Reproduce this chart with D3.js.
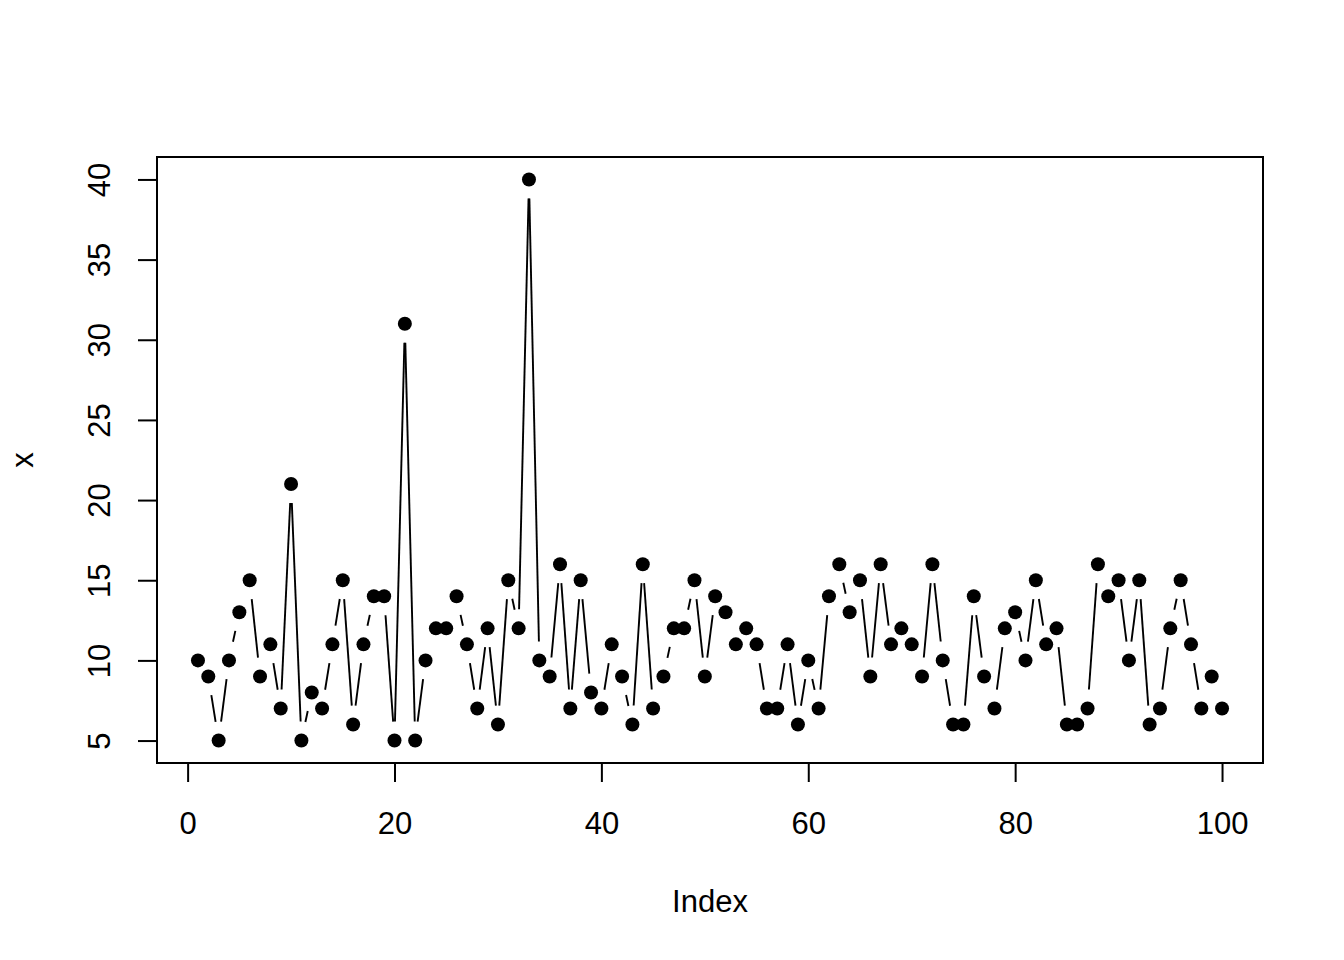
<!DOCTYPE html>
<html>
<meta charset="utf-8">
<head>
<script src="https://d3js.org/d3.v7.min.js"></script>
<title>index plot</title>
<style>
html, body {
	margin: 0;
	padding: 0;
	background: white;
}
svg {
	display: block;
	font-family: 'Liberation Sans', Arial, sans-serif;
}
</style>
</head>
<body>
<svg></svg>
<script>
// values of x (index 1..100)
var values = [10, 9, 5, 10, 13, 15, 9, 11, 7, 21,
	5, 8, 7, 11, 15, 6, 11, 14, 14, 5,
	31, 5, 10, 12, 12, 14, 11, 7, 12, 6,
	15, 12, 40, 10, 9, 16, 7, 15, 8, 7,
	11, 9, 6, 16, 7, 9, 12, 12, 15, 9,
	14, 13, 11, 12, 11, 7, 7, 11, 6, 10,
	7, 14, 16, 13, 15, 9, 16, 11, 12, 11,
	9, 16, 10, 6, 6, 14, 9, 7, 12, 13,
	10, 15, 11, 12, 6, 6, 7, 16, 14, 15,
	10, 15, 6, 7, 12, 15, 11, 7, 9, 7];
var xTicks = [0, 20, 40, 60, 80, 100];
var yTicks = [5, 10, 15, 20, 25, 30, 35, 40];
var xLabel = "Index";
var yLabel = "x";

var width = 1344;
var height = 960;
var box = {left: 157, right: 1263, top: 157, bottom: 763};
var fontSize = 31;
var gap = 19;   // space left around each point by type = "b"

var data = values.map(function(v, i) { return {i: i + 1, v: v}; });

// R pads the data range by 4% on each side
function padded(lo, hi) {
	var e = (hi - lo) * 0.04;
	return [lo - e, hi + e];
}

var x = d3.scaleLinear()
	.domain(padded(1, values.length))
	.range([box.left, box.right]);
var y = d3.scaleLinear()
	.domain(padded(d3.min(values), d3.max(values)))
	.range([box.bottom, box.top]);

var svg = d3.select("svg")
	.attr("width", width)
	.attr("height", height);

// line pieces between points, shortened at both ends
var segs = [];
for (var k = 0; k < data.length - 1; k++) {
	var x0 = x(data[k].i), y0 = y(data[k].v);
	var x1 = x(data[k + 1].i), y1 = y(data[k + 1].v);
	var dx = x1 - x0, dy = y1 - y0;
	var len = Math.sqrt(dx * dx + dy * dy);
	if (len > 2 * gap) {
		var ux = dx / len, uy = dy / len;
		segs.push({x1: x0 + ux * gap, y1: y0 + uy * gap, x2: x1 - ux * gap, y2: y1 - uy * gap});
	}
}

svg.append("g")
	.selectAll("line")
	.data(segs)
	.enter().append("line")
		.attr("x1", function(d) { return d.x1; })
		.attr("y1", function(d) { return d.y1; })
		.attr("x2", function(d) { return d.x2; })
		.attr("y2", function(d) { return d.y2; })
		.style("stroke", "black")
		.style("stroke-width", 1.9);

svg.append("g")
	.selectAll("circle")
	.data(data)
	.enter().append("circle")
		.attr("cx", function(d) { return x(d.i); })
		.attr("cy", function(d) { return y(d.v); })
		.attr("r", 7)
		.style("fill", "black");

// frame
svg.append("rect")
	.attr("x", box.left)
	.attr("y", box.top)
	.attr("width", box.right - box.left)
	.attr("height", box.bottom - box.top)
	.style("fill", "none")
	.style("stroke", "black")
	.style("stroke-width", 2);

// bottom axis
var xAxis = svg.append("g")
	.attr("transform", "translate(0," + box.bottom + ")")
	.call(d3.axisBottom(x).tickValues(xTicks).tickSize(19).tickPadding(0).tickSizeOuter(0));
xAxis.select(".domain")
	.attr("d", "M" + x(xTicks[0]) + ",0H" + x(xTicks[xTicks.length - 1]))
	.style("stroke-width", 2);
xAxis.selectAll(".tick line").style("stroke-width", 2);
xAxis.selectAll(".tick text")
	.attr("y", 71)
	.attr("dy", null)
	.style("font-size", fontSize + "px")
	.style("font-family", "'Liberation Sans', Arial, sans-serif")
	.style("fill", "black");

// left axis, labels turned like R's las = 0
var yAxis = svg.append("g")
	.attr("transform", "translate(" + box.left + ",0)")
	.call(d3.axisLeft(y).tickValues(yTicks).tickSize(19).tickSizeOuter(0));
yAxis.select(".domain")
	.attr("d", "M0," + y(yTicks[0]) + "V" + y(yTicks[yTicks.length - 1]))
	.style("stroke-width", 2);
yAxis.selectAll(".tick line").style("stroke-width", 2);
yAxis.selectAll(".tick text")
	.attr("x", null)
	.attr("dy", null)
	.attr("transform", "translate(-47,0) rotate(-90)")
	.style("text-anchor", "middle")
	.style("font-size", fontSize + "px")
	.style("font-family", "'Liberation Sans', Arial, sans-serif")
	.style("fill", "black");

// axis titles
svg.append("text")
	.attr("x", (box.left + box.right) / 2)
	.attr("y", 912)
	.style("text-anchor", "middle")
	.style("font-size", fontSize + "px")
	.text(xLabel);

svg.append("text")
	.attr("transform", "translate(33," + (box.top + box.bottom) / 2 + ") rotate(-90)")
	.style("text-anchor", "middle")
	.style("font-size", fontSize + "px")
	.text(yLabel);
</script>
</body>
</html>
